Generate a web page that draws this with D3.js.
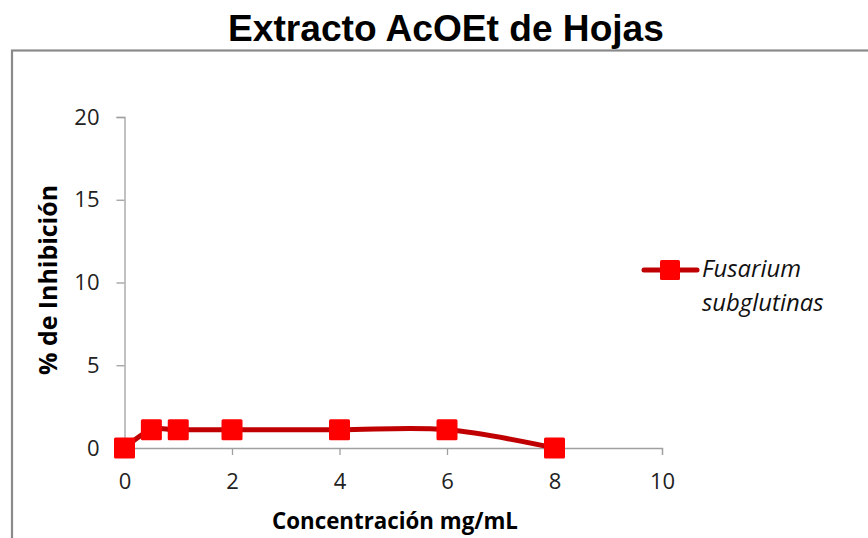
<!DOCTYPE html>
<html><head><meta charset="utf-8">
<script src="https://cdn.jsdelivr.net/npm/d3@7"></script>
<style>body{margin:0;background:#fff;} svg{display:block;}</style>
</head><body>
<script>
const concentrations = [0, 0.5, 1, 2, 4, 6, 8];
const inhibition = [0, 1.1, 1.1, 1.1, 1.1, 1.1, 0];
const xTicks = [0, 2, 4, 6, 8, 10];
const yTicks = [0, 5, 10, 15, 20];
const seriesName = ["Fusarium", "subglutinas"];
const title = "Extracto AcOEt de Hojas";
const xTitle = "Concentración mg/mL";
const yTitle = "% de Inhibición";

const W = 868, H = 538;
const svg = d3.select("body").append("svg").attr("width", W).attr("height", H);

// fit a text element's font-size so its width matches a target width
function fitWidth(sel, target) {
  const fs = +sel.attr("font-size");
  const w = sel.node().getComputedTextLength();
  if (w > 0) sel.attr("font-size", (fs * target / w).toFixed(2));
}

// outer frame
svg.append("rect").attr("x", 12).attr("y", 50.5).attr("width", 900).attr("height", 600)
  .attr("fill", "none").attr("stroke", "#8a8a8a").attr("stroke-width", 2.2);

// title
const t = svg.append("text").attr("x", 446).attr("y", 41).attr("text-anchor", "middle")
  .attr("font-family", "Liberation Sans, Arial, sans-serif").attr("font-weight", "bold")
  .attr("font-size", 36).attr("fill", "#000").text(title);
fitWidth(t, 436);

const x = d3.scaleLinear().domain([0, 10]).range([124.5, 662]);
const y = d3.scaleLinear().domain([0, 20]).range([448, 117]);

const font = "'Open Sans', Lato, sans-serif";
const axisColor = "#a0a0a0";

const gx = svg.append("g").attr("transform", `translate(0,${y(0)})`)
  .call(d3.axisBottom(x).tickValues(xTicks).tickSize(7).tickPadding(18).tickFormat(d3.format("d")));
const gy = svg.append("g").attr("transform", `translate(${x(0)},0)`)
  .call(d3.axisLeft(y).tickValues(yTicks).tickSize(8).tickPadding(17).tickFormat(d3.format("d")));
[gx, gy].forEach(g => {
  g.select(".domain").attr("stroke", axisColor).attr("stroke-width", 1.3);
  g.selectAll(".tick line").attr("stroke", axisColor).attr("stroke-width", 1.3);
  g.selectAll(".tick text").attr("font-family", font).attr("font-size", 22).attr("fill", "#222");
});

// axis titles
const xt = svg.append("text").attr("x", 395).attr("y", 529).attr("text-anchor", "middle")
  .attr("font-family", font).attr("font-weight", "bold").attr("font-size", 20).attr("fill", "#000")
  .text(xTitle);
fitWidth(xt, 246);
const yt = svg.append("text").attr("transform", "translate(57,280) rotate(-90)").attr("text-anchor", "middle")
  .attr("font-family", font).attr("font-weight", "bold").attr("font-size", 20).attr("fill", "#000")
  .text(yTitle);
fitWidth(yt, 190);

const data = concentrations.map((c, i) => ({c, v: inhibition[i]}));
const line = d3.line().x(d => x(d.c)).y(d => y(d.v)).curve(d3.curveCardinal.tension(0));
svg.append("path").datum(data).attr("d", line).attr("fill", "none")
  .attr("stroke", "#c00000").attr("stroke-width", 5).attr("stroke-linejoin", "round");

const ms = 21;
svg.selectAll("rect.m").data(data).enter().append("rect").attr("class", "m")
  .attr("x", d => x(d.c) - ms/2).attr("y", d => y(d.v) - ms/2)
  .attr("width", ms).attr("height", ms).attr("rx", 1.5)
  .attr("fill", "#ff0000");

// legend
const lg = svg.append("g");
lg.append("line").attr("x1", 644).attr("x2", 697).attr("y1", 270).attr("y2", 270)
  .attr("stroke", "#c00000").attr("stroke-width", 5).attr("stroke-linecap", "round");
lg.append("rect").attr("x", 670 - 10).attr("y", 270 - 10).attr("width", 20).attr("height", 20).attr("rx", 1.5)
  .attr("fill", "#ff0000");
const lt = lg.selectAll("text").data(seriesName).enter().append("text")
  .attr("x", 702).attr("y", (d, i) => 277 + i * 34)
  .attr("font-family", font).attr("font-style", "italic").attr("font-size", 20).attr("fill", "#111")
  .text(d => d);
fitWidth(d3.select(lt.nodes()[0]), 99);
lt.attr("font-size", d3.select(lt.nodes()[0]).attr("font-size"));
</script>
</body></html>
